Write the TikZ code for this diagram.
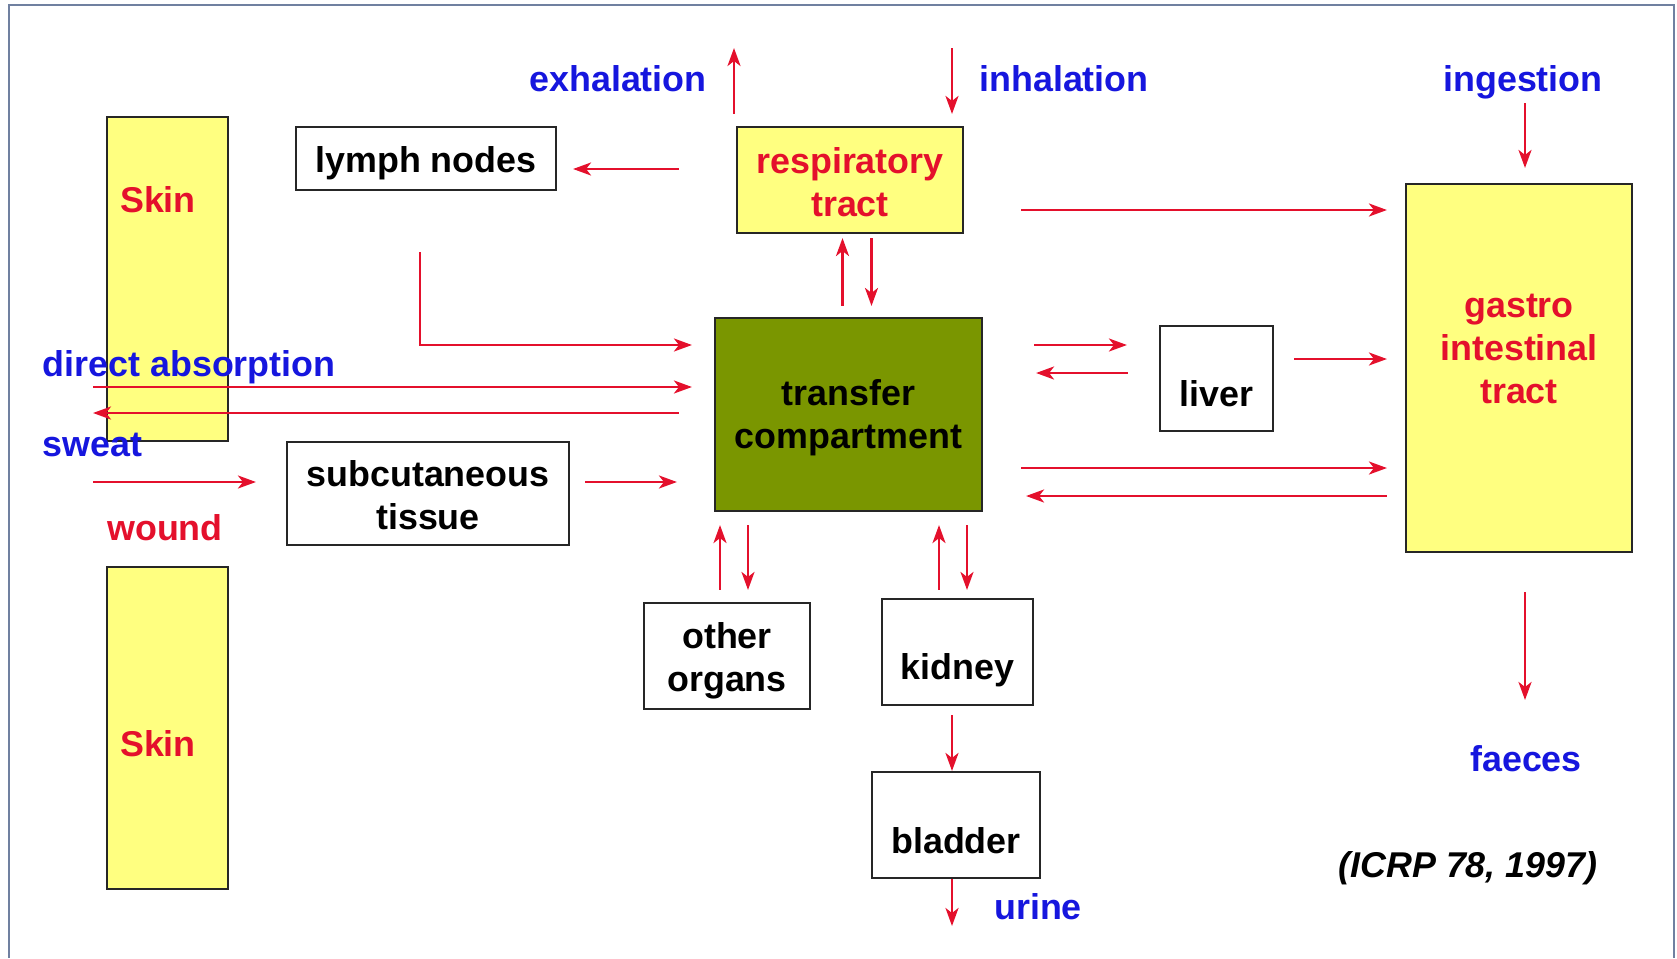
\documentclass[tikz,border=0pt]{standalone}
\usepackage{fontspec}
\setmainfont{Liberation Sans}
\usepackage{xcolor}
\usepackage{tikz}
\usetikzlibrary{positioning, calc, arrows.meta}

\definecolor{arrred}{RGB}{228,16,44}
\definecolor{txtblue}{RGB}{22,22,222}
\definecolor{boxyellow}{RGB}{255,255,128}
\definecolor{tcolive}{RGB}{122,150,0}
\definecolor{framecol}{RGB}{112,128,160}

\tikzset{
  organ/.style={draw=black!85, line width=0.6pt, fill=white, inner sep=0pt, align=center,
    font=\bfseries\fontsize{10.2}{12.3}\selectfont},
  yellowbox/.style={organ, fill=boxyellow, text=arrred},
  lbl/.style={inner sep=0pt, align=center, font=\bfseries\fontsize{10.2}{12.3}\selectfont},
  inout/.style={lbl, text=txtblue},
  arr/.style={draw=arrred, line width=0.75pt, -{Stealth[length=1.8mm, width=1.3mm, inset=0.5mm]}},
}

\begin{document}
\begin{tikzpicture}
      \useasboundingbox (0,0) rectangle (16.77,-9.58);
      \draw[framecol, line width=0.5pt] (0.09,-9.58) |- (16.74,-0.05) -- (16.74,-9.58);

      % compartments
      \node[yellowbox, minimum width=1.21cm, minimum height=3.24cm,
        label={[lbl, text=arrred, xshift=-0.95mm, yshift=7.9mm]center:Skin}] (skinA) at (1.675,-2.79) {};
      \node[yellowbox, minimum width=1.21cm, minimum height=3.22cm,
        label={[lbl, text=arrred, xshift=-0.95mm, yshift=-1.6mm]center:Skin}] (skinB) at (1.675,-7.28) {};
      \node[organ, minimum width=2.60cm, minimum height=0.63cm,
        label={[lbl, yshift=-0.5mm]center:lymph nodes}] (lymph) at (4.26,-1.585) {};
      \node[yellowbox, minimum width=2.26cm, minimum height=1.06cm,
        label={[lbl, text=arrred, yshift=-0.2mm]center:respiratory\\tract}] (resp) at (8.50,-1.80) {};
      \node[organ, fill=tcolive, minimum width=2.67cm, minimum height=1.93cm,
        label={[lbl, yshift=-0.3mm]center:transfer\\compartment}] (transfer) at (8.485,-4.145) {};
      \node[organ, minimum width=1.13cm, minimum height=1.05cm,
        label={[lbl, yshift=-1.55mm]center:liver}] (liver) at (12.165,-3.785) {};
      \node[yellowbox, minimum width=2.26cm, minimum height=3.68cm,
        label={[lbl, text=arrred, yshift=1.9mm]center:gastro\\intestinal\\tract}] (gi) at (15.19,-3.68) {};
      \node[organ, minimum width=2.82cm, minimum height=1.03cm,
        label={[lbl, yshift=-0.2mm]center:subcutaneous\\tissue}] (subcut) at (4.28,-4.935) {};
      \node[organ, minimum width=1.66cm, minimum height=1.06cm,
        label={[lbl, yshift=-0.5mm]center:other\\organs}] (other) at (7.27,-6.56) {};
      \node[organ, minimum width=1.51cm, minimum height=1.06cm,
        label={[lbl, yshift=-1.8mm]center:kidney}] (kidney) at (9.575,-6.52) {};
      \node[organ, minimum width=1.68cm, minimum height=1.06cm,
        label={[lbl, yshift=-1.6mm]center:bladder}] (bladder) at (9.56,-8.25) {};

      % free ends
      \coordinate (exhEnd) at (7.34,-0.48);
      \coordinate (inhStart) at (9.52,-0.48);
      \coordinate (ingStart) at (15.25,-1.03);
      \coordinate (faeEnd) at (15.25,-7.00);
      \coordinate (absStart) at (0.93,-3.87);
      \coordinate (sweatEnd) at (0.93,-4.13);
      \coordinate (woundStart) at (0.93,-4.82);
      \coordinate (urineEnd) at (9.52,-9.26);

      % texts
      \node[inout] (exhalation) at (6.18,-0.79) {exhalation};
      \node[inout] (inhalation) at (10.64,-0.79) {inhalation};
      \node[inout] (ingestion) at (15.23,-0.82) {ingestion};
      \node[inout, anchor=west] (absorption) at (0.42,-3.67) {direct absorption};
      \node[inout, anchor=west] (sweat) at (0.42,-4.45) {sweat};
      \node[lbl, text=arrred] (wound) at (1.65,-5.28) {wound};
      \node[inout] (faeces) at (15.26,-7.59) {faeces};
      \node[inout] (urine) at (10.38,-9.07) {urine};
      \node[lbl, font=\bfseries\itshape\fontsize{10.2}{12.3}\selectfont] (source) at (14.68,-8.68) {(ICRP 78, 1997)};

      % flows
      \draw[arr, shorten <=1.2mm] (exhEnd |- resp.north) -- (exhEnd);
      \draw[arr, shorten >=1.2mm] (inhStart) -- (inhStart |- resp.north);
      \draw[arr, shorten >=1.5mm] (ingStart) -- (ingStart |- gi.north);
      \draw[arr, shorten <=3.9mm] (faeEnd |- gi.south) -- (faeEnd);
      \draw[arr, shorten <=5.7mm, shorten >=1.6mm] ([yshift=1.1mm]resp.west) -- ([yshift=1.1mm]resp.west -| lymph.east);
      \draw[arr, shorten <=5.7mm, shorten >=1.8mm] ([yshift=-3mm]resp.east) -- ([yshift=-3mm]resp.east -| gi.west);
      \draw[arr, shorten <=1.1mm, shorten >=0.4mm] ([xshift=-0.6mm]transfer.north) -- ([xshift=-0.6mm]transfer.north |- resp.south);
      \draw[arr, shorten <=0.4mm, shorten >=1.1mm] ([xshift=2.3mm]transfer.north |- resp.south) -- ([xshift=2.3mm]transfer.north);
      \draw[arr, shorten <=6.1mm, shorten >=2.2mm] ([xshift=-0.6mm]lymph.south) |- ([yshift=6.95mm]transfer.west);
      \draw[arr, shorten >=2.2mm] (absStart) -- (absStart -| transfer.west);
      \draw[arr, shorten <=3.5mm] (sweatEnd -| transfer.west) -- (sweatEnd);
      \draw[arr, shorten >=3mm] (woundStart) -- (woundStart -| subcut.west);
      \draw[arr, shorten <=1.5mm, shorten >=3.7mm] (woundStart -| subcut.east) -- (woundStart -| transfer.west);
      \draw[arr, shorten <=5.1mm, shorten >=3.2mm] ([yshift=6.95mm]transfer.east) -- ([yshift=6.95mm]transfer.east -| liver.west);
      \draw[arr, shorten <=3.1mm, shorten >=5.3mm] ([yshift=0.55mm]liver.west) -- ([yshift=0.55mm]liver.west -| transfer.east);
      \draw[arr, shorten <=2mm, shorten >=1.8mm] ([yshift=1.95mm]liver.east) -- ([yshift=1.95mm]liver.east -| gi.west);
      \draw[arr, shorten <=3.8mm, shorten >=1.8mm] ([yshift=-5.35mm]transfer.east) -- ([yshift=-5.35mm]transfer.east -| gi.west);
      \draw[arr, shorten <=1.8mm, shorten >=4.3mm] ([yshift=-8.15mm]transfer.east -| gi.west) -- ([yshift=-8.15mm]transfer.east);
      \draw[arr, shorten <=1.2mm, shorten >=1.3mm] ([xshift=-0.7mm]other.north) -- ([xshift=-0.7mm]other.north |- transfer.south);
      \draw[arr, shorten <=1.3mm, shorten >=1.2mm] ([xshift=2.1mm]other.north |- transfer.south) -- ([xshift=2.1mm]other.north);
      \draw[arr, shorten <=0.8mm, shorten >=1.3mm] ([xshift=-1.85mm]kidney.north) -- ([xshift=-1.85mm]kidney.north |- transfer.south);
      \draw[arr, shorten <=1.3mm, shorten >=0.8mm] ([xshift=0.95mm]kidney.north |- transfer.south) -- ([xshift=0.95mm]kidney.north);
      \draw[arr, shorten <=0.9mm] ([xshift=-0.55mm]kidney.south) -- ([xshift=-0.55mm]kidney.south |- bladder.north);
      \draw[arr] (urineEnd |- bladder.south) -- (urineEnd);
    \end{tikzpicture}
\end{document}
